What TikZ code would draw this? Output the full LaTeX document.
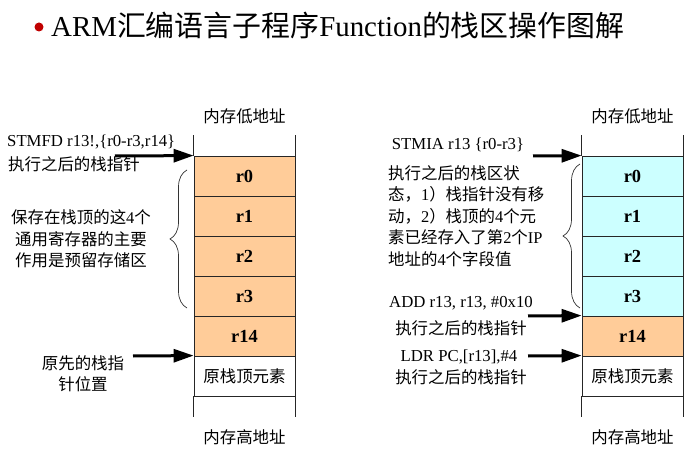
\documentclass[tikz,border=0pt]{standalone}
\usepackage{fontspec}
\setmainfont{Liberation Serif}
\newfontfamily\cjk{Noto Sans CJK SC}
\usetikzlibrary{arrows.meta,decorations.pathreplacing}
\definecolor{peach}{HTML}{FFCC99}
\definecolor{icecyan}{HTML}{CCFFFF}
\definecolor{bulletred}{HTML}{C00000}
\newcommand\lat[1]{{\rmfamily #1}}
\tikzset{
  cell/.style={draw=black!85, line width=0.8bp, minimum width=101bp, minimum height=40bp,
    inner sep=0pt, font=\fontsize{18.5}{20}\selectfont\bfseries},
  oldcell/.style={cell, font=\cjk\fontsize{16.5}{20}\selectfont},
  openline/.style={draw=black!85, line width=0.8bp},
  ptr/.style={line width=3bp, -{Triangle[length=20bp,width=13bp]}},
  zh/.style={inner sep=0pt, font=\cjk\fontsize{16.5}{21.5}\selectfont},
  en/.style={inner sep=0pt, font=\rmfamily\fontsize{16.8}{20}\selectfont},
  brc/.style={decorate, decoration={brace, amplitude=17bp}, draw=black!80, line width=0.7bp}
}
\begin{document}
\begin{tikzpicture}[x=1bp,y=-1bp]
\useasboundingbox (0,0) rectangle (695,468);
% title
\node[circle, fill=bulletred, minimum size=9bp, inner sep=0pt] (bul) at (39,27) {};
\node[anchor=base west, inner sep=0pt, font=\rmfamily\fontsize{29}{30}\selectfont] (title) at (51,37)
  {ARM{\cjk 汇编语言子程序}Function{\cjk 的栈区操作图解}};

% ---------- left stack ----------
\node[cell, fill=peach] (L0) at (244.5,176) {r0};
\node[cell, fill=peach] (L1) at (244.5,216) {r1};
\node[cell, fill=peach] (L2) at (244.5,256) {r2};
\node[cell, fill=peach] (L3) at (244.5,296) {r3};
\node[cell, fill=peach] (L4) at (244.5,336) {r14};
\node[oldcell] (L5) at (244.5,376) {原栈顶元素};
\draw[openline] (L0.north west) -- ++(0,-21);
\draw[openline] (L0.north east) -- ++(0,-21);
\draw[openline] (L5.south west) -- ++(0,21);
\draw[openline] (L5.south east) -- ++(0,21);
\node[zh] (Llow) at (244.5,116) {内存低地址};
\node[zh] (Lhigh) at (244.5,437) {内存高地址};

\node[en, anchor=west] (stmfd) at (7,142) {STMFD r13!,\{r0-r3,r14\}};
\node[zh, anchor=west] (lafter) at (8,164) {执行之后的栈指针};
\node[zh, align=center] (lsave) at (81,239) {保存在栈顶的这\lat{4}个\\通用寄存器的主要\\作用是预留存储区};
\node[zh, align=center] (lorig) at (83,374) {原先的栈指\\针位置};
\coordinate (la1) at (115,156);
\coordinate (la2) at (133,356);
\draw[ptr] (la1) -- (L0.north west);
\draw[ptr] (la2) -- (L5.north west);
\draw[brc] (187,308) -- (187,170);

% ---------- right stack ----------
\node[cell, fill=icecyan] (R0) at (632.5,176) {r0};
\node[cell, fill=icecyan] (R1) at (632.5,216) {r1};
\node[cell, fill=icecyan] (R2) at (632.5,256) {r2};
\node[cell, fill=icecyan] (R3) at (632.5,296) {r3};
\node[cell, fill=peach] (R4) at (632.5,336) {r14};
\node[oldcell] (R5) at (632.5,376) {原栈顶元素};
\draw[openline] (R0.north west) -- ++(0,-21);
\draw[openline] (R0.north east) -- ++(0,-21);
\draw[openline] (R5.south west) -- ++(0,21);
\draw[openline] (R5.south east) -- ++(0,21);
\node[zh] (Rlow) at (632.5,116) {内存低地址};
\node[zh] (Rhigh) at (632.5,437) {内存高地址};

\node[en] (stmia) at (458,145) {STMIA r13 \{r0-r3\}};
\node[zh, align=left, anchor=west] (rstate) at (388,216)
  {执行之后的栈区状\\态，\lat{1}）栈指针没有移\\动，\lat{2}）栈顶的\lat{4}个元\\素已经存入了第\lat{2}个\lat{IP}\\地址的\lat{4}个字段值};
\node[en] (add) at (461,303) {ADD r13, r13, \#0x10};
\node[zh] (addafter) at (461,328) {执行之后的栈指针};
\node[en] (ldr) at (459,357) {LDR PC,[r13],\#4};
\node[zh] (ldrafter) at (461,377) {执行之后的栈指针};
\coordinate (ra1) at (533,156);
\coordinate (ra2) at (528,316);
\coordinate (ra3) at (528,356);
\draw[ptr] (ra1) -- (R0.north west);
\draw[ptr] (ra2) -- (R4.north west);
\draw[ptr] (ra3) -- (R5.north west);
\draw[brc] (580,308) -- (580,164);
\end{tikzpicture}
\end{document}
